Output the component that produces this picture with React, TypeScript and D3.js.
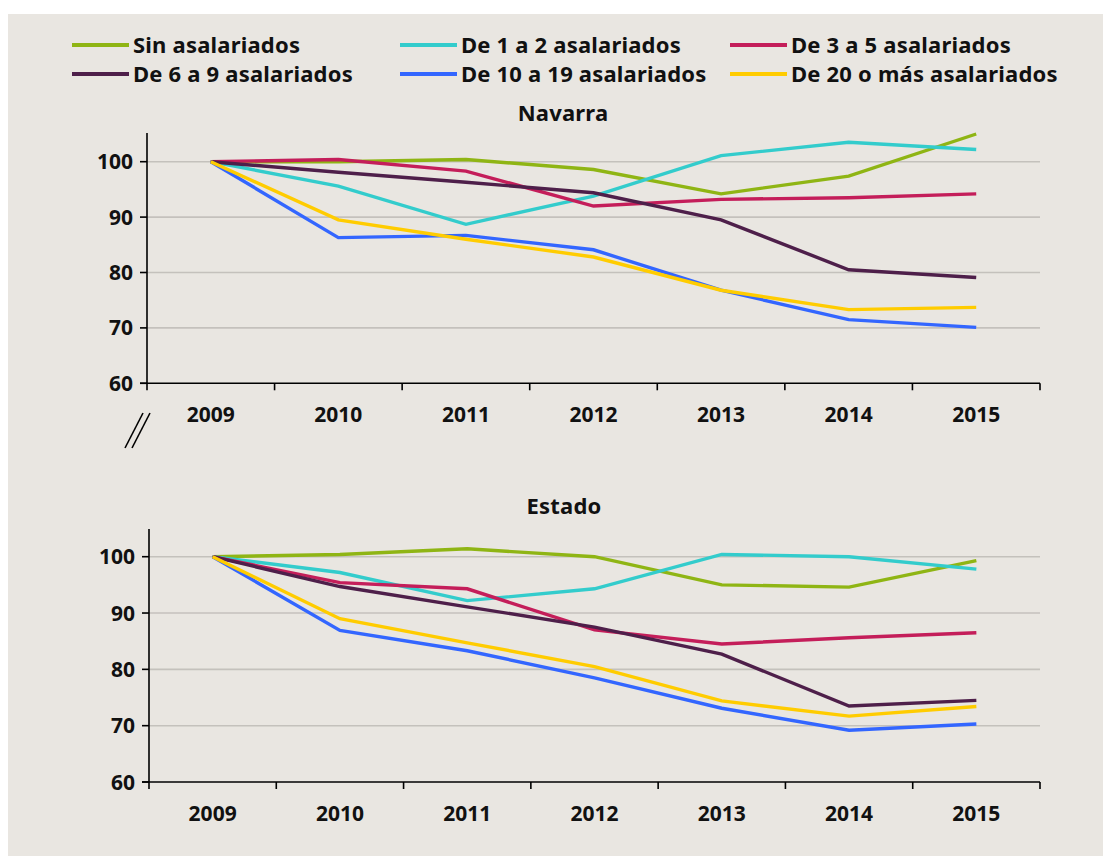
import React from "react";
import * as d3 from "d3";

const years = ["2009", "2010", "2011", "2012", "2013", "2014", "2015"];
const seriesNames = [
  "Sin asalariados",
  "De 1 a 2 asalariados",
  "De 3 a 5 asalariados",
  "De 6 a 9 asalariados",
  "De 10 a 19 asalariados",
  "De 20 o más asalariados",
];
const seriesColors = ["#8fb514", "#33cccc", "#c41e5a", "#4e1f4a", "#3366ff", "#ffcc00"];

// Navarra
const navSin = [100, 100.0, 100.4, 98.6, 94.2, 97.4, 105.0];
const nav1a2 = [100, 95.6, 88.7, 93.8, 101.1, 103.5, 102.2];
const nav3a5 = [100, 100.4, 98.3, 92.0, 93.2, 93.5, 94.2];
const nav6a9 = [100, 98.1, 96.3, 94.4, 89.5, 80.5, 79.1];
const nav10a19 = [100, 86.3, 86.7, 84.1, 76.8, 71.5, 70.1];
const nav20mas = [100, 89.5, 86.0, 82.8, 76.8, 73.3, 73.7];

// Estado
const estSin = [100, 100.4, 101.4, 100.0, 95.0, 94.6, 99.3];
const est1a2 = [100, 97.2, 92.2, 94.3, 100.4, 100.0, 97.8];
const est3a5 = [100, 95.4, 94.3, 87.0, 84.5, 85.6, 86.5];
const est6a9 = [100, 94.7, 91.1, 87.5, 82.7, 73.5, 74.5];
const est10a19 = [100, 86.9, 83.3, 78.5, 73.1, 69.2, 70.3];
const est20mas = [100, 89.0, 84.7, 80.5, 74.4, 71.7, 73.4];

const yTicks = [60, 70, 80, 90, 100];

const FONT = "'Noto Sans', sans-serif";

type PanelProps = {
  title: string;
  data: number[][];
  x0: number;
  x1: number;
  y60: number;
  y100: number;
  yTop: number;
  titleX: number;
  titleY: number;
  brk?: boolean;
};

function Panel({ title, data, x0, x1, y60, y100, yTop, titleX, titleY, brk }: PanelProps) {
  const x = d3.scaleBand<string>().domain(years).range([x0, x1]).paddingInner(0).paddingOuter(0);
  const y = d3.scaleLinear().domain([60, 100]).range([y60, y100]);
  const line = d3
    .line<number>()
    .x((_, i) => (x(years[i]) as number) + x.bandwidth() / 2)
    .y((v) => y(v));
  const boundaries = years.map((yr) => x(yr) as number).concat([x1]);
  return (
    <g>
      <text x={titleX} y={titleY} textAnchor="middle" fontFamily={FONT} fontWeight="bold" fontSize={22} letterSpacing={0.2} fill="#111">
        {title}
      </text>
      {yTicks.slice(1).map((t) => (
        <line key={"g" + t} x1={x0} x2={x1} y1={y(t)} y2={y(t)} stroke="#c4c1bc" strokeWidth={1.6} />
      ))}
      {data.map((vals, i) => (
        <path key={"s" + i} d={line(vals) || ""} fill="none" stroke={seriesColors[i]} strokeWidth={3.4} strokeLinejoin="miter" />
      ))}
      <line x1={x0} x2={x0} y1={yTop} y2={y60} stroke="#000" strokeWidth={1.6} />
      <line x1={x0 - 7} x2={x1} y1={y60} y2={y60} stroke="#000" strokeWidth={1.6} />
      {yTicks.map((t) => (
        <g key={"yt" + t}>
          <line x1={x0 - 7} x2={x0} y1={y(t)} y2={y(t)} stroke="#000" strokeWidth={1.6} />
          <text x={x0 - 14} y={y(t)} dy="0.36em" textAnchor="end" fontFamily={FONT} fontWeight="bold" fontSize={21} fill="#111">
            {t}
          </text>
        </g>
      ))}
      {boundaries.map((b, i) => (
        <line key={"xt" + i} x1={b} x2={b} y1={y60} y2={y60 + 7} stroke="#000" strokeWidth={1.6} />
      ))}
      {years.map((yr) => (
        <text
          key={"xl" + yr}
          x={(x(yr) as number) + x.bandwidth() / 2}
          y={y60 + 39}
          textAnchor="middle"
          fontFamily={FONT}
          fontWeight="bold"
          fontSize={21}
          fill="#111"
        >
          {yr}
        </text>
      ))}
      {brk && (
        <g stroke="#000" strokeWidth={1.6}>
          <line x1={125} y1={448} x2={143} y2={413} />
          <line x1={132} y1={448} x2={150} y2={413} />
        </g>
      )}
    </g>
  );
}

export default function App() {
  const navData = [navSin, nav1a2, nav3a5, nav6a9, nav10a19, nav20mas];
  const estData = [estSin, est1a2, est3a5, est6a9, est10a19, est20mas];
  const legendCols = [72, 400, 730];
  const legendRows = [45, 74];
  return (
    <svg width={1103} height={856} style={{ position: "absolute", left: 0, top: 0 }}>
      <rect x={8} y={14} width={1095} height={842} fill="#e9e6e1" />
      {seriesNames.map((name, i) => {
        const cx = legendCols[i % 3];
        const cy = legendRows[Math.floor(i / 3)];
        return (
          <g key={"lg" + i}>
            <line x1={cx} x2={cx + 57} y1={cy} y2={cy} stroke={seriesColors[i]} strokeWidth={4} />
            <text x={cx + 61} y={cy} dy="0.36em" fontFamily={FONT} fontWeight="bold" fontSize={22} letterSpacing={0.2} fill="#111">
              {name}
            </text>
          </g>
        );
      })}
      <Panel title="Navarra" data={navData} x0={147} x1={1040} y60={383.3} y100={161.7} yTop={133} titleX={563} titleY={121} brk />
      <Panel title="Estado" data={estData} x0={149} x1={1040} y60={782} y100={556.7} yTop={529} titleX={564} titleY={514} />
    </svg>
  );
}
